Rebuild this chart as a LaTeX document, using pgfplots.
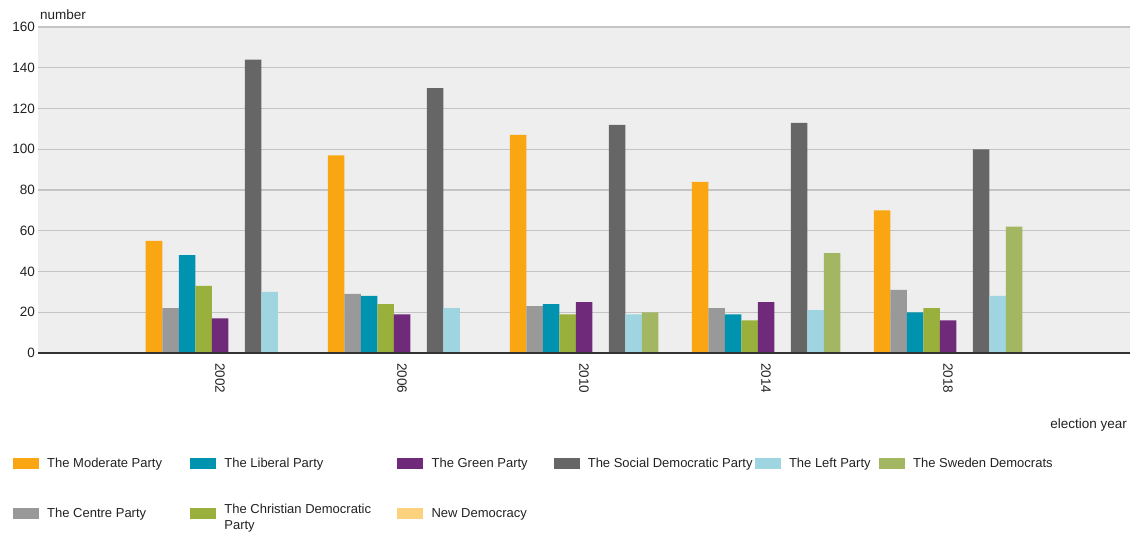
\documentclass[border=0pt]{standalone}
\usepackage{pgfplots}
\pgfplotsset{compat=1.18}
\usepackage{fontspec}
\setmainfont{Liberation Sans}
\definecolor{cM}{HTML}{F9A612}
\definecolor{cC}{HTML}{999999}
\definecolor{cL}{HTML}{0093AF}
\definecolor{cKD}{HTML}{9AB03C}
\definecolor{cMP}{HTML}{6F2A79}
\definecolor{cND}{HTML}{FDD27F}
\definecolor{cS}{HTML}{666666}
\definecolor{cV}{HTML}{9ED5E0}
\definecolor{cSD}{HTML}{A3B661}
\definecolor{bgc}{HTML}{EEEEEE}
\definecolor{gridc}{HTML}{C4C4C4}
\definecolor{txt}{HTML}{222222}
\definecolor{axc}{HTML}{333333}
\newcommand{\ff}{\fontsize{13.5bp}{16bp}\selectfont}
\newcommand{\lf}{\fontsize{13bp}{16bp}\selectfont}
\begin{document}
\begin{tikzpicture}
\begin{axis}[
  scale only axis, width=1092bp, height=326bp,
  xmin=-1, xmax=5, ymin=0, ymax=160,
  xtick={0,1,2,3,4}, xticklabels={2002,2006,2010,2014,2018},
  ytick={0,20,...,160},
  major tick length=0pt,
  ymajorgrids, grid style={draw=gridc, line width=1.2bp},
  axis line style={draw=none},
  axis background/.style={fill=bgc},
  tick label style={font=\ff, text=txt, inner sep=0pt},
  /pgf/number format/assume math mode=true,
  /pgf/number format/1000 sep={},
  xticklabel style={rotate=-90, anchor=west},
  xticklabel shift=10bp,
  yticklabel style={anchor=east},
  yticklabel shift=3bp,
  clip=false,
  bar width=16.5bp,
  legend columns=6,
  legend image code/.code={\fill[#1, draw=none] (0bp,-5.5bp) rectangle (26bp,5.5bp); \path (34bp,0bp);},
  legend cell align=left,
  legend style={at={(0,0)}, anchor=north west, xshift=-25bp, yshift=-105bp,
    draw=none, fill=none, inner sep=0pt, outer sep=0pt,
    column sep=0pt, row sep=35bp, font=\lf,
    nodes={inner sep=0pt, text=txt}},
]
\addplot[ybar, fill=cM, draw=none, bar shift=-66bp, forget plot] coordinates {(0,55) (1,97) (2,107) (3,84) (4,70)};
\addplot[ybar, fill=cC, draw=none, bar shift=-49.5bp, forget plot] coordinates {(0,22) (1,29) (2,23) (3,22) (4,31)};
\addplot[ybar, fill=cL, draw=none, bar shift=-33bp, forget plot] coordinates {(0,48) (1,28) (2,24) (3,19) (4,20)};
\addplot[ybar, fill=cKD, draw=none, bar shift=-16.5bp, forget plot] coordinates {(0,33) (1,24) (2,19) (3,16) (4,22)};
\addplot[ybar, fill=cMP, draw=none, bar shift=0bp, forget plot] coordinates {(0,17) (1,19) (2,25) (3,25) (4,16)};
\addplot[ybar, fill=cND, draw=none, bar shift=16.5bp, forget plot] coordinates {(0,0) (1,0) (2,0) (3,0) (4,0)};
\addplot[ybar, fill=cS, draw=none, bar shift=33bp, forget plot] coordinates {(0,144) (1,130) (2,112) (3,113) (4,100)};
\addplot[ybar, fill=cV, draw=none, bar shift=49.5bp, forget plot] coordinates {(0,30) (1,22) (2,19) (3,21) (4,28)};
\addplot[ybar, fill=cSD, draw=none, bar shift=66bp, forget plot] coordinates {(0,0) (1,0) (2,20) (3,49) (4,62)};

\addlegendimage{fill=cM}\addlegendentry{\makebox[143bp][l]{The Moderate Party}}
\addlegendimage{fill=cL}\addlegendentry{\makebox[173bp][l]{The Liberal Party}}
\addlegendimage{fill=cMP}\addlegendentry{\makebox[122bp][l]{The Green Party}}
\addlegendimage{fill=cS}\addlegendentry{\makebox[167bp][l]{The Social Democratic Party}}
\addlegendimage{fill=cV}\addlegendentry{\makebox[90bp][l]{The Left Party}}
\addlegendimage{fill=cSD}\addlegendentry{The Sweden Democrats}
\addlegendimage{fill=cC}\addlegendentry{The Centre Party}
\addlegendimage{fill=cKD}\addlegendentry{\parbox[c]{165bp}{\raggedright The Christian Democratic\\Party}}
\addlegendimage{fill=cND}\addlegendentry{New Democracy}

\draw[line width=1.3bp, draw=axc] (rel axis cs:0,0) -- (rel axis cs:1,0);
\node[anchor=base west, inner sep=0pt, font=\ff, text=txt, xshift=2bp, yshift=7bp] at (rel axis cs:0,1) {number};
\node[anchor=base east, inner sep=0pt, font=\ff, text=txt, xshift=-3bp, yshift=-75bp] at (rel axis cs:1,0) {election year};
\coordinate (sw) at (rel axis cs:0,0);
\coordinate (ne) at (rel axis cs:1,1);
\end{axis}
\pgfresetboundingbox
\path ([xshift=-38bp,yshift=-185bp]sw) rectangle ([xshift=6bp,yshift=27bp]ne);
\end{tikzpicture}
\end{document}
